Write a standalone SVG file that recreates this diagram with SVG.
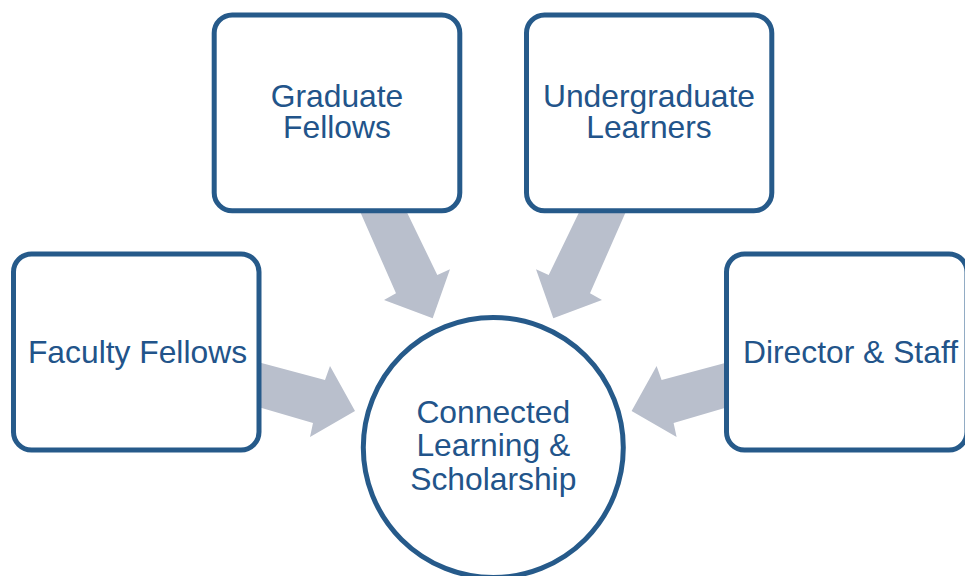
<svg xmlns="http://www.w3.org/2000/svg" width="965" height="576" viewBox="0 0 965 576">
<style>
.box{fill:#ffffff;stroke:#265A8A;stroke-width:5}
.arrow{fill:#B9BFCC;stroke:none}
.lbl{font-family:"Liberation Sans",Arial,sans-serif;font-size:31.8px;fill:#22548A;text-anchor:middle}
</style>
<rect width="965" height="576" fill="#ffffff"/>
<g id="connectors">
<polygon class="arrow" points="250,359.8 325,380 330,366 355,411 310,437 313,423 250,404.5"/>
<polygon class="arrow" points="740,359 661.6,380 656.6,366 631.6,411 676.6,437 673.6,423 740,403.6"/>
<polygon class="arrow" points="355,200 401,200 437.3,275 450,269.3 432.7,318.3 384,300 396,293.3"/>
<polygon class="arrow" points="631,200 585,200 548.7,275 536,269.3 553.3,318.3 602,300 590,293.3"/>
</g>
<g id="faculty">
<rect class="box" x="13.5" y="254" width="245.5" height="196" rx="18"/>
<text class="lbl" x="137.5" y="363.3">Faculty Fellows</text>
</g>
<g id="graduate">
<rect class="box" x="214.2" y="15" width="245.6" height="195.8" rx="18"/>
<text class="lbl" x="337" y="106.7">Graduate</text>
<text class="lbl" x="337" y="138.3">Fellows</text>
</g>
<g id="undergraduate">
<rect class="box" x="526.5" y="15" width="245.3" height="195.8" rx="18"/>
<text class="lbl" x="649" y="106.5">Undergraduate</text>
<text class="lbl" x="649" y="138.3">Learners</text>
</g>
<g id="director">
<rect class="box" x="726.5" y="254" width="240.5" height="196" rx="18"/>
<text class="lbl" x="850.5" y="363.3">Director &amp; Staff</text>
</g>
<g id="center">
<circle class="box" cx="493.3" cy="447.5" r="130"/>
<text class="lbl" x="493.3" y="423.3">Connected</text>
<text class="lbl" x="493.3" y="456">Learning &amp;</text>
<text class="lbl" x="493.3" y="490">Scholarship</text>
</g>
</svg>
